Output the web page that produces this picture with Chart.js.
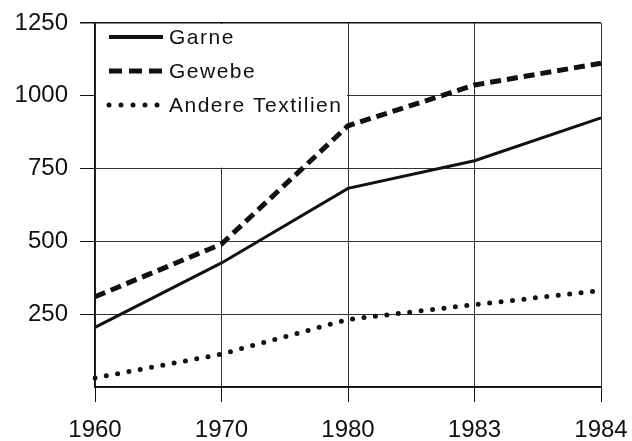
<!DOCTYPE html>
<html>
<head>
<meta charset="utf-8">
<script src="https://cdn.jsdelivr.net/npm/chart.js@4/dist/chart.umd.min.js"></script>
<style>
    html, body { margin: 0; padding: 0; background: #fff; }
    #wrap { width: 632px; height: 441px; }
</style>
</head>
<body>
<div id="wrap"><canvas id="textileChart" width="632" height="441"></canvas></div>
<script>
// values
const years = ['1960', '1970', '1980', '1983', '1984'];
const garne = [205, 426, 682, 777, 924];
const gewebe = [310, 491, 897, 1037, 1112];
const andereTextilien = [31, 113, 232, 283, 331];
const yTicks = [250, 500, 750, 1000, 1250];

const FONT = '"Liberation Sans", Arial, sans-serif';
const INK = '#111';

// white box behind the legend, then the legend itself
const legendPlugin = {
    id: 'insideLegend',
    beforeDatasetsDraw(chart) {
        const ctx = chart.ctx;
        const area = chart.chartArea;
        const x = chart.scales.x;
        const y = chart.scales.y;
        ctx.save();
        ctx.fillStyle = '#fff';
        ctx.fillRect(area.left + 1, area.top + 1,
            x.getPixelForValue(2) - area.left - 2, y.getPixelForValue(750) - area.top - 2);
        ctx.restore();
    },
    afterDatasetsDraw(chart) {
        const ctx = chart.ctx;
        const items = chart.data.datasets;
        const x0 = 109, x1 = 163;
        ctx.save();
        items.forEach((ds, i) => {
            const yy = 37 + i * 34;
            ctx.strokeStyle = INK;
            ctx.lineWidth = ds.legendWidth;
            ctx.lineCap = ds.borderCapStyle || 'butt';
            ctx.setLineDash(ds.legendDash || []);
            ctx.beginPath();
            ctx.moveTo(x0, yy);
            ctx.lineTo(x1, yy);
            ctx.stroke();
            ctx.setLineDash([]);
            ctx.fillStyle = INK;
            ctx.font = '21px ' + FONT;
            ctx.letterSpacing = '1.5px';
            ctx.textBaseline = 'middle';
            ctx.fillText(ds.label, 169, yy + 1);
        });
        ctx.restore();
    }
};

new Chart(document.getElementById('textileChart'), {
    type: 'line',
    data: {
        labels: years,
        datasets: [{
            label: 'Garne',
            data: garne,
            borderColor: INK,
            borderWidth: 3,
            legendWidth: 4,
            pointRadius: 0,
            tension: 0
        }, {
            label: 'Gewebe',
            data: gewebe,
            borderColor: INK,
            borderWidth: 5,
            borderDash: [11, 6],
            legendWidth: 5,
            legendDash: [13, 7],
            pointRadius: 0,
            tension: 0
        }, {
            label: 'Andere Textilien',
            data: andereTextilien,
            borderColor: INK,
            borderWidth: 5,
            borderDash: [0, 11.5],
            borderCapStyle: 'round',
            legendWidth: 5,
            legendDash: [0, 12],
            pointRadius: 0,
            tension: 0
        }]
    },
    options: {
        responsive: false,
        animation: false,
        layout: {
            padding: { left: 0, top: 23, right: 31, bottom: 0 }
        },
        plugins: {
            legend: { display: false },
            tooltip: { enabled: false }
        },
        scales: {
            x: {
                offset: false,
                border: { color: INK, width: 1.5 },
                grid: {
                    color: '#333',
                    lineWidth: 1,
                    tickLength: 15,
                    tickColor: INK
                },
                ticks: {
                    color: INK,
                    font: { family: FONT, size: 24 },
                    padding: 14,
                    maxRotation: 0,
                    autoSkip: false
                },
                afterFit(scale) {
                    scale.height = 54;
                    scale.paddingLeft = 0;
                    scale.paddingRight = 0;
                }
            },
            y: {
                min: 0,
                max: 1250,
                border: { color: INK, width: 1.5 },
                grid: {
                    color: ctx => ctx.tick && ctx.tick.value === 1250 ? INK : '#333',
                    lineWidth: ctx => ctx.tick && ctx.tick.value === 1250 ? 1.5 : 1,
                    tickLength: 15,
                    tickColor: ctx => ctx.tick && ctx.tick.value === 0 ? 'rgba(0,0,0,0)' : INK
                },
                afterBuildTicks(scale) {
                    scale.ticks = [0].concat(yTicks).map(v => ({ value: v }));
                },
                ticks: {
                    color: INK,
                    font: { family: FONT, size: 24 },
                    padding: 12,
                    callback: v => v === 0 ? '' : String(v)
                },
                afterFit(scale) {
                    scale.width = 95;
                    scale.paddingTop = 0;
                    scale.paddingBottom = 0;
                }
            }
        }
    },
    plugins: [legendPlugin]
});
</script>
</body>
</html>
